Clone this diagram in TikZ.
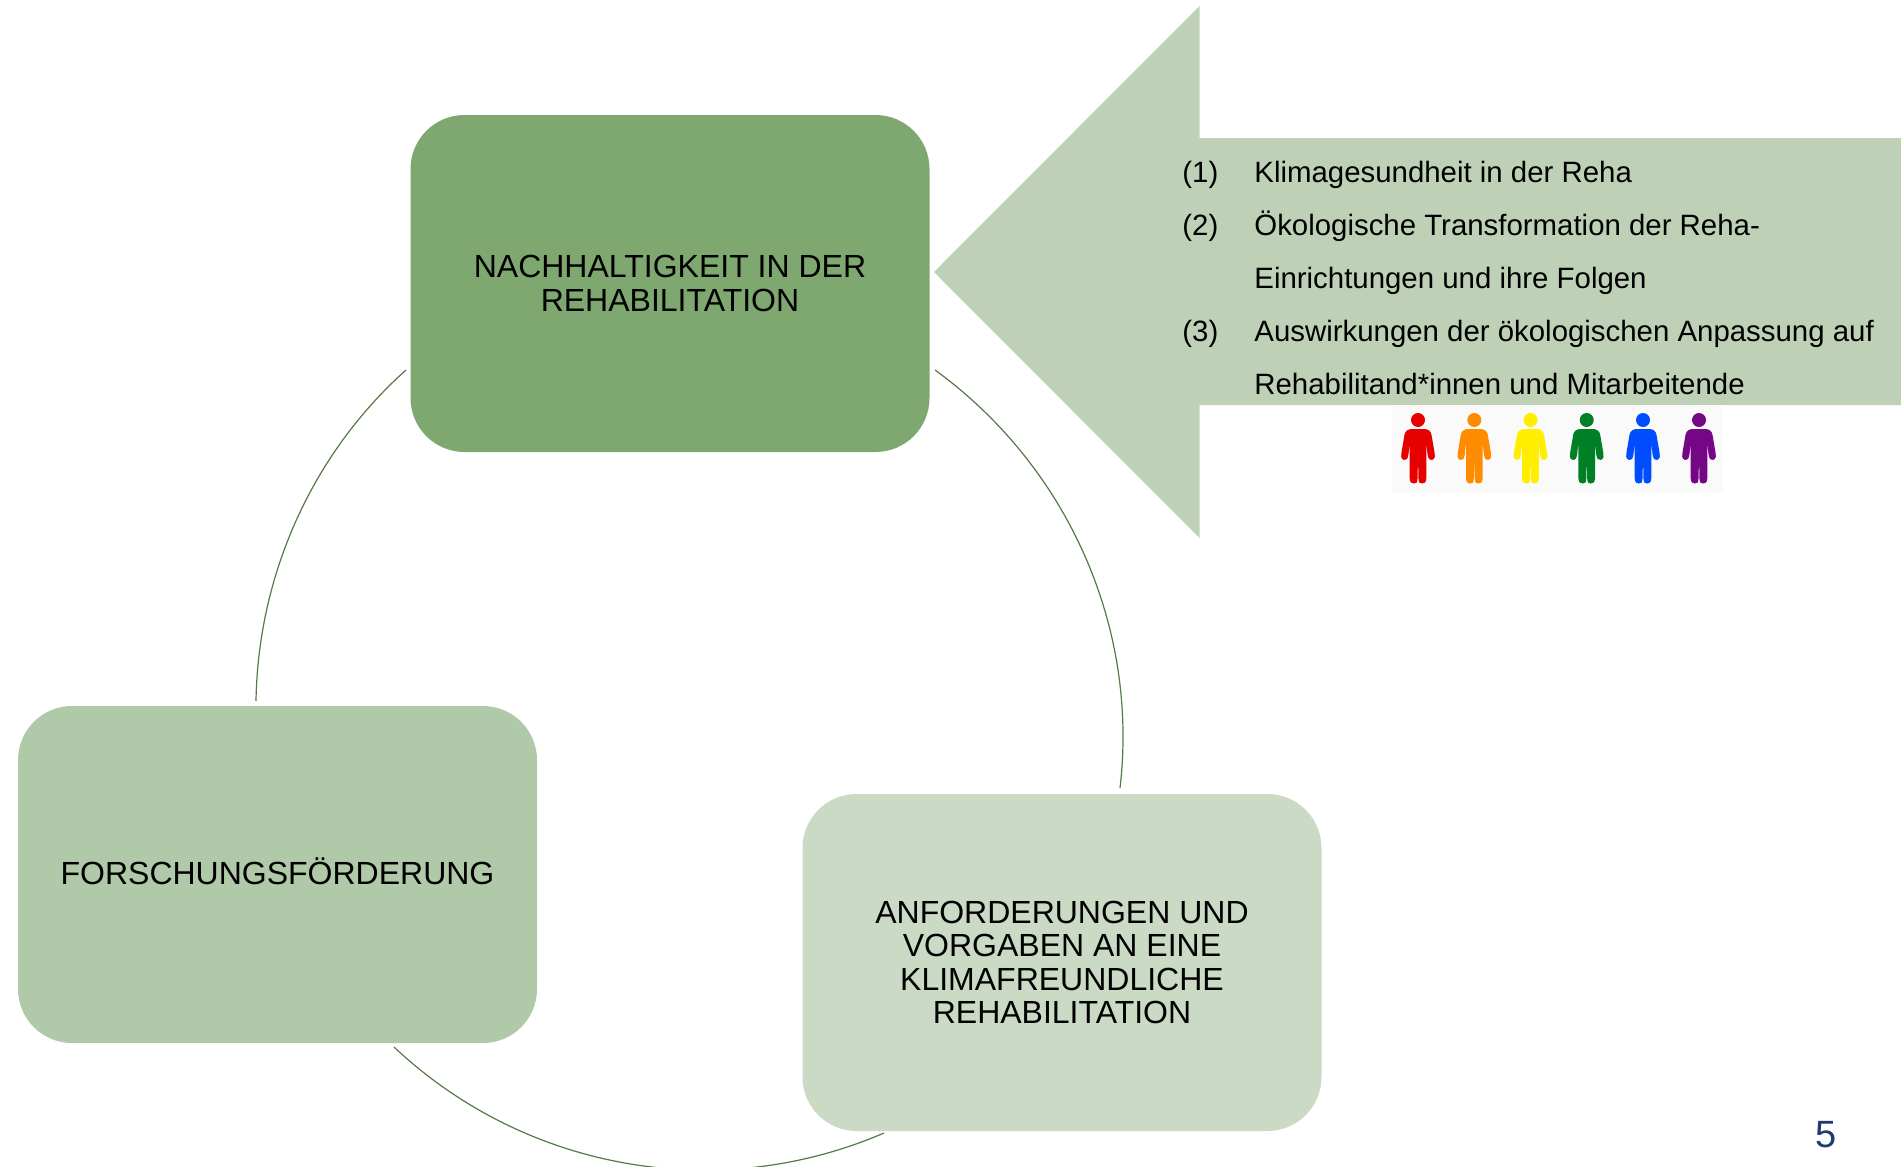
\documentclass[tikz,border=0pt]{standalone}
\usepackage{fontspec}
\setmainfont{Liberation Sans}
\usepackage{xcolor}
\usetikzlibrary{positioning}
\definecolor{topgreen}{HTML}{7EA86F}
\definecolor{leftgreen}{HTML}{B0C9A8}
\definecolor{rightgreen}{HTML}{CBDAC5}
\definecolor{arrowgreen}{HTML}{BED1B7}
\definecolor{arcgreen}{HTML}{557A47}
\definecolor{pagenumblue}{HTML}{1F3A6E}
\tikzset{
  stagebox/.style={rounded corners=27pt, minimum width=259.5pt, minimum height=168.5pt, inner sep=0pt, align=center, font=\fontsize{16}{16.7}\selectfont},
  listline/.style={anchor=west, inner sep=0pt, text height=11pt, text depth=3pt, font=\fontsize{14.7}{16}\selectfont},
  cyclearc/.style={draw=arcgreen, line width=0.6pt},
  person/.pic={
    \fill (0,0) circle (7);
    \fill[rounded corners=1.2pt] (-9,9) -- (9,9) -- (13,12) -- (16.8,34) -- (16.8,39) -- (12,40.5) -- (9.8,37) -- (8.3,22) -- (8.3,61) -- (6,63.5) -- (2,63.5) -- (0.5,61) -- (0,36) -- (-0.5,61) -- (-2,63.5) -- (-6,63.5) -- (-8.3,61) -- (-8.3,22) -- (-9.8,37) -- (-12,40.5) -- (-16.8,39) -- (-16.8,34) -- (-13,12) -- cycle;
  }
}
\begin{document}
\begin{tikzpicture}[x=0.5pt, y=-0.5pt, on grid]
\useasboundingbox (0,0) rectangle (1901,1167);
\clip (0,0) rectangle (1901,1167);
\fill[arrowgreen] (934,272) -- (1199.5,6) -- (1199.5,138) -- (1901,138) -- (1901,405) -- (1199.5,405) -- (1199.5,538) -- cycle;
\node[stagebox, fill=topgreen] (nachhaltigkeit) at (670,283.5) {NACHHALTIGKEIT IN DER\\REHABILITATION};
\node[stagebox, fill=leftgreen, below left=295.5pt and 196.25pt of nachhaltigkeit] (forschung) {\raisebox{-5pt}[0pt][0pt]{FORSCHUNGSFÖRDERUNG}};
\node[stagebox, fill=rightgreen, below right=339.5pt and 196pt of nachhaltigkeit] (vorgaben) {ANFORDERUNGEN UND\\VORGABEN AN EINE\\KLIMAFREUNDLICHE\\REHABILITATION};
\coordinate (toparc) at (935,370);
\coordinate (toparcend) at (1120,788);
\coordinate (rightarc) at (884,1133);
\coordinate (rightarcend) at (394,1047);
\coordinate (leftarc) at (256,701);
\coordinate (leftarcend) at (406,370);
\draw[cyclearc] (toparc) .. controls (1067,466) and (1139,626) .. (toparcend);
\draw[cyclearc] (rightarc) .. controls (718,1204.5) and (525.6,1170.8) .. (rightarcend);
\draw[cyclearc] (leftarc) .. controls (258,575) and (312,454) .. (leftarcend);
\node[listline] (line1) at (1254,174) {Klimagesundheit in der Reha};
\node[below=26.5pt of line1.west, listline] (line2) {Ökologische Transformation der Reha-};
\node[below=26.5pt of line2.west, listline] (line3) {Einrichtungen und ihre Folgen};
\node[below=26.5pt of line3.west, listline] (line4) {Auswirkungen der ökologischen Anpassung auf};
\node[below=26.5pt of line4.west, listline] (line5) {Rehabilitand*innen und Mitarbeitende};
\node[left=36pt of line1.west, listline] (num1) {(1)};
\node[left=36pt of line2.west, listline] (num2) {(2)};
\node[left=36pt of line4.west, listline] (num3) {(3)};
\fill[black!2] (1392,405) rectangle (1723,493);
\pic[fill={rgb,255:red,230;green,0;blue,0}] (redperson) at (1418,420) {person};
\pic[fill={rgb,255:red,255;green,140;blue,0}] (orangeperson) at (1474.3,420) {person};
\pic[fill={rgb,255:red,255;green,238;blue,0}] (yellowperson) at (1530.5,420) {person};
\pic[fill={rgb,255:red,0;green,128;blue,38}] (greenperson) at (1586.7,420) {person};
\pic[fill={rgb,255:red,0;green,77;blue,255}] (blueperson) at (1643,420) {person};
\pic[fill={rgb,255:red,117;green,7;blue,135}] (purpleperson) at (1699,420) {person};
\node[text=pagenumblue, font=\fontsize{19}{22}\selectfont, inner sep=0pt] (pagenum) at (1826,1135) {5};
\end{tikzpicture}
\end{document}
